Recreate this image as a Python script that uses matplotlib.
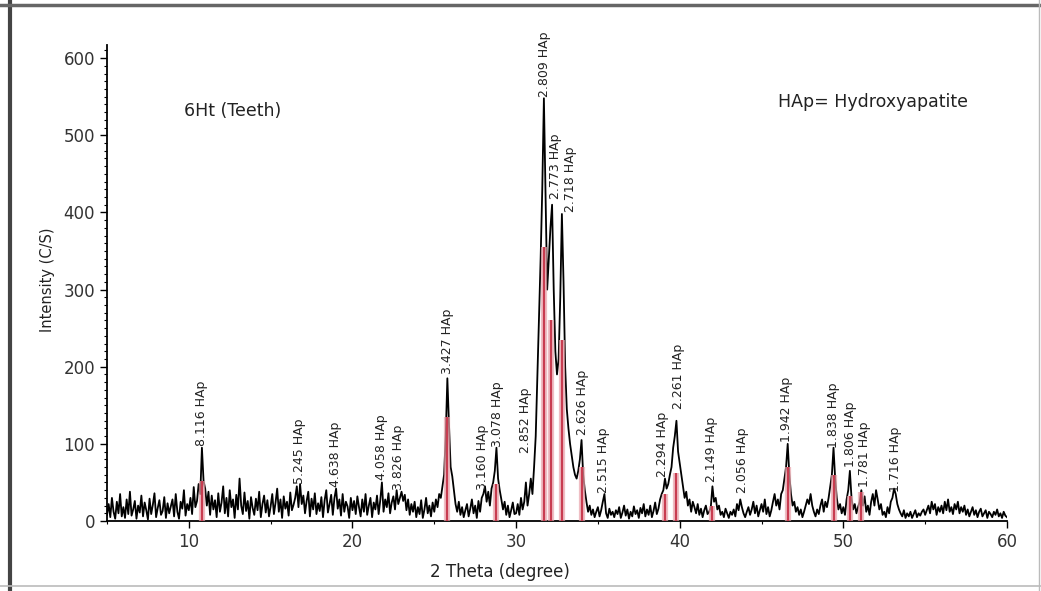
import numpy as np
import matplotlib
matplotlib.use('Agg')
import matplotlib.pyplot as plt
from matplotlib.lines import Line2D
from matplotlib.ticker import MultipleLocator

# XRD scan, 0.1 deg steps from 5 to 60 (one row per degree)
counts = [
    [8, 22, 5, 30, 12, 3, 25, 10, 35, 6],          # 5
    [18, 4, 28, 9, 38, 7, 15, 26, 3, 20],          # 6
    [11, 33, 6, 24, 14, 2, 29, 9, 21, 36],         # 7
    [5, 17, 27, 8, 13, 31, 4, 23, 10, 19],         # 8
    [28, 6, 35, 12, 3, 25, 16, 40, 7, 22],         # 9
    [14, 30, 9, 44, 18, 26, 48, 35, 95, 52],       # 10
    [42, 20, 38, 8, 33, 15, 27, 5, 36, 12],        # 11
    [24, 45, 10, 30, 6, 40, 18, 28, 4, 34],        # 12
    [15, 55, 20, 9, 37, 13, 26, 3, 31, 17],        # 13
    [8, 29, 14, 38, 5, 22, 33, 11, 27, 6],         # 14
    [19, 35, 9, 24, 42, 12, 28, 4, 32, 16],        # 15
    [25, 7, 37, 14, 21, 30, 45, 18, 48, 22],       # 16
    [33, 10, 26, 38, 6, 29, 15, 36, 9, 23],        # 17
    [13, 31, 5, 27, 40, 11, 22, 34, 8, 30],        # 18
    [42, 16, 28, 7, 35, 12, 25, 19, 4, 30],        # 19
    [14, 26, 9, 32, 18, 6, 28, 12, 35, 8],         # 20
    [20, 30, 5, 24, 15, 33, 9, 27, 50, 12],        # 21
    [28, 18, 36, 10, 24, 32, 15, 40, 22, 30],      # 22
    [38, 26, 34, 14, 28, 8, 22, 12, 25, 5],        # 23
    [18, 9, 27, 4, 15, 30, 10, 20, 6, 24],         # 24
    [12, 28, 18, 35, 30, 45, 60, 110, 185, 125],   # 25
    [70, 58, 40, 22, 12, 25, 8, 18, 5, 14],        # 26
    [22, 6, 16, 28, 10, 20, 4, 26, 12, 30],        # 27
    [35, 45, 25, 38, 20, 42, 50, 65, 95, 55],      # 28
    [40, 28, 15, 25, 8, 20, 5, 14, 24, 9],         # 29
    [10, 22, 8, 30, 15, 25, 50, 20, 35, 55],       # 30
    [35, 70, 110, 185, 260, 340, 430, 548, 420, 300],  # 31
    [340, 380, 410, 300, 220, 190, 210, 290, 398, 310],  # 32
    [200, 145, 120, 100, 85, 70, 60, 55, 65, 80],  # 33
    [105, 60, 40, 25, 12, 20, 8, 15, 5, 12],       # 34
    [18, 6, 14, 25, 35, 10, 4, 16, 8, 12],         # 35
    [5, 14, 9, 18, 4, 11, 20, 7, 15, 3],           # 36
    [12, 6, 19, 9, 14, 4, 17, 10, 22, 6],          # 37
    [15, 8, 20, 5, 13, 24, 9, 16, 28, 35],         # 38
    [40, 55, 42, 48, 60, 70, 95, 110, 130, 90],    # 39
    [75, 60, 45, 30, 38, 20, 28, 12, 25, 18],      # 40
    [10, 22, 8, 16, 5, 14, 20, 9, 12, 18],         # 41
    [45, 25, 30, 15, 20, 8, 12, 5, 16, 10],        # 42
    [4, 12, 8, 15, 6, 22, 14, 28, 18, 10],         # 43
    [5, 12, 18, 8, 15, 25, 10, 20, 6, 14],         # 44
    [22, 12, 28, 9, 18, 6, 14, 25, 35, 20],        # 45
    [28, 15, 35, 40, 55, 70, 100, 60, 35, 20],     # 46
    [25, 12, 18, 8, 15, 5, 12, 20, 28, 22],        # 47
    [35, 20, 12, 6, 15, 9, 20, 28, 12, 25],        # 48
    [18, 30, 45, 60, 95, 55, 30, 15, 22, 10],      # 49
    [18, 8, 28, 40, 65, 30, 15, 22, 10, 18],       # 50
    [25, 40, 20, 32, 12, 20, 8, 25, 35, 20],       # 51
    [40, 28, 15, 22, 8, 12, 5, 18, 10, 25],        # 52
    [30, 42, 35, 22, 15, 10, 6, 14, 4, 10],        # 53
    [6, 12, 4, 9, 14, 5, 10, 7, 12, 15],           # 54
    [8, 14, 20, 10, 25, 15, 22, 8, 18, 12],        # 55
    [20, 10, 25, 14, 28, 12, 18, 9, 22, 15],       # 56
    [25, 10, 18, 12, 20, 8, 15, 6, 12, 18],        # 57
    [8, 14, 5, 12, 16, 6, 10, 14, 4, 12],          # 58
    [9, 5, 12, 8, 15, 6, 10, 4, 12, 7],            # 59
    [5],                                           # 60
]
intensity = [v for row in counts for v in row]
theta = np.round(np.arange(5.0, 60.05, 0.1), 1)

# reference pattern sticks (red)
stick_pos = [10.8, 25.8, 28.8, 31.7, 32.15, 32.8, 34.0, 39.1, 39.8, 42.0, 46.6, 49.4, 50.4, 51.1]
stick_h = [52, 135, 48, 355, 260, 235, 70, 35, 62, 20, 70, 60, 32, 38]

# peak labels
label_text = ["8.116 HAp", "5.245 HAp", "4.638 HAp", "4.058 HAp", "3.826 HAp",
              "3.427 HAp", "3.160 HAp", "3.078 HAp", "2.852 HAp", "2.809 HAp",
              "2.773 HAp", "2.718 HAp", "2.626 HAp", "2.515 HAp", "2.294 HAp",
              "2.261 HAp", "2.149 HAp", "2.056 HAp", "1.942 HAp", "1.838 HAp",
              "1.806 HAp", "1.781 HAp", "1.716 HAp"]
label_x = [10.75, 16.75, 18.95, 21.75, 22.8, 25.8, 27.95, 28.85, 30.6, 31.75,
           32.4, 33.35, 34.05, 35.35, 38.95, 39.9, 41.95, 43.85, 46.55, 49.4,
           50.45, 51.3, 53.2]
label_y = [97, 48, 44, 53, 40, 190, 40, 96, 88, 550, 418, 400, 112, 36, 57,
           145, 51, 36, 102, 95, 70, 44, 38]

fig = plt.figure(figsize=(10.41, 5.91), dpi=100)
ax = fig.add_axes([0.1028, 0.1184, 0.8645, 0.8054])

ax.plot(theta, intensity, color='black', lw=1.3, zorder=2)
ax.vlines(stick_pos, 0, stick_h, color='#e9a3ab', lw=4.5, alpha=0.7, zorder=3)
ax.vlines(stick_pos, 0, stick_h, color='#c83c50', lw=1.6, zorder=4)

for t, x, y in zip(label_text, label_x, label_y):
    ax.text(x, y, t, rotation=90, ha='center', va='bottom', fontsize=9, color='#222222')

ax.text(9.7, 531, '6Ht (Teeth)', fontsize=12.5, va='center', ha='left', color='#222222')
ax.text(46.0, 543, 'HAp= Hydroxyapatite', fontsize=12.5, va='center', ha='left', color='#222222')

ax.set_xlim(5, 60)
ax.set_ylim(0, 617)
ax.xaxis.set_major_locator(MultipleLocator(10))
ax.xaxis.set_minor_locator(MultipleLocator(5))
ax.yaxis.set_major_locator(MultipleLocator(100))
ax.yaxis.set_minor_locator(MultipleLocator(10))

for s in ['top', 'right']:
    ax.spines[s].set_visible(False)
for s in ['left', 'bottom']:
    ax.spines[s].set_linewidth(1.3)

ax.tick_params(which='major', direction='out', length=5, width=1, labelsize=12,
               labelcolor='#333333')
ax.tick_params(which='minor', direction='out', length=2.5, width=0.8)

ax.set_xlabel('2 Theta (degree)', fontsize=12, color='#222222')
ax.set_ylabel('Intensity (C/S)', fontsize=10.5, color='#222222')
ax.xaxis.set_label_coords(0.437, -0.088)
ax.yaxis.set_label_coords(-0.058, 0.506)

# outer frame of the picture
fig.add_artist(Line2D([10 / 1041, 10 / 1041], [0, 1], color='#444444', lw=3))
fig.add_artist(Line2D([0, 1], [1 - 5 / 591, 1 - 5 / 591], color='#666666', lw=2.5))
fig.add_artist(Line2D([1039 / 1041, 1039 / 1041], [0, 1], color='#bbbbbb', lw=1))
fig.add_artist(Line2D([0, 1], [5 / 591, 5 / 591], color='#bbbbbb', lw=1.2))

fig.savefig('out.png', dpi=100)
